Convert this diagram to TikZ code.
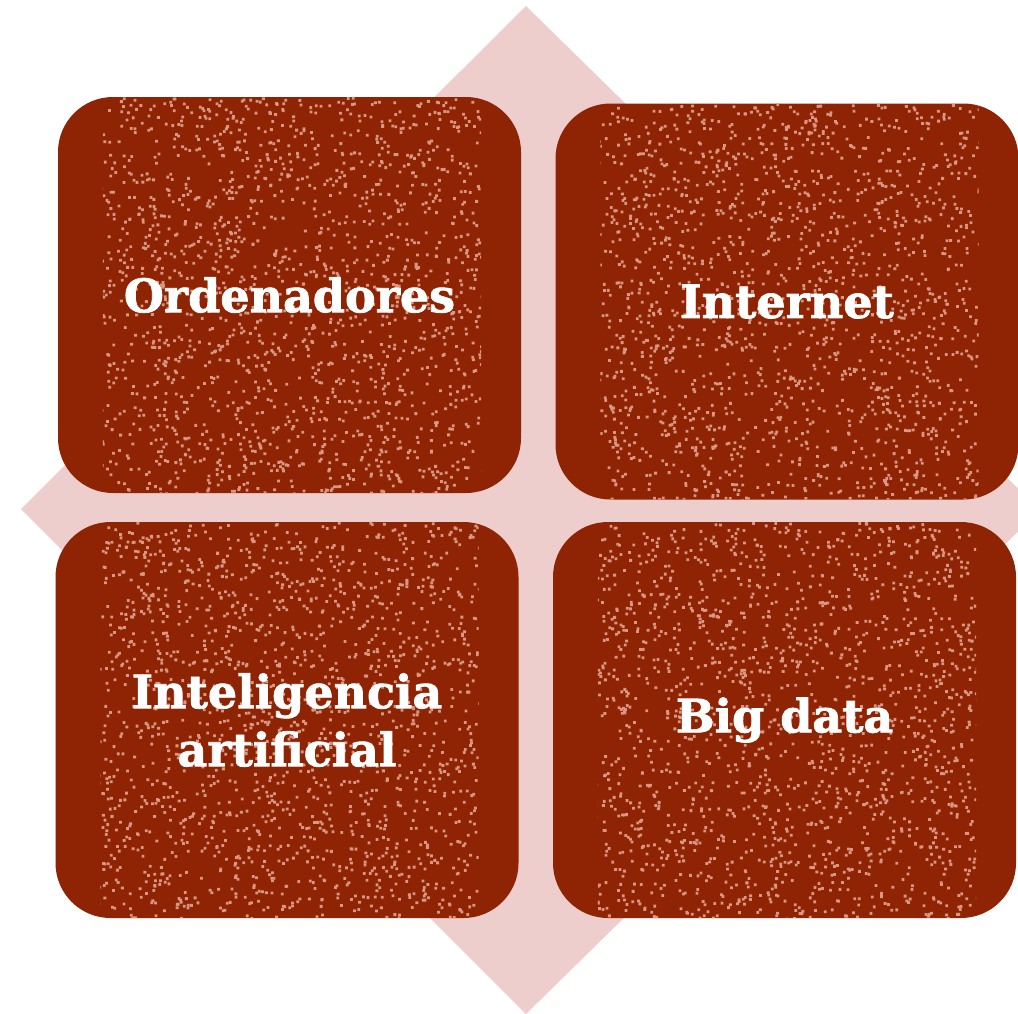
\documentclass[tikz,border=0pt]{standalone}
\usepackage{fontspec}
\newfontfamily\labelfont[BoldFeatures={FakeBold=1.6}]{DejaVu Serif}
\usetikzlibrary{calc}
\definecolor{diamondpink}{RGB}{238,206,204}
\definecolor{boxred}{RGB}{142,36,4}
\definecolor{speckcol}{RGB}{218,150,130}
\tikzset{
  tile/.style={fill=boxred, draw=none, rounded corners=55pt, minimum width=463pt, minimum height=396pt, inner sep=0pt},
  tilelabel/.style={text=white, align=center, font=\labelfont\bfseries\fontsize{46}{58}\selectfont},
  speck/.style={fill=speckcol}
}
\begin{document}
\begin{tikzpicture}[x=1pt,y=-1pt]
\useasboundingbox (0,0) rectangle (1018,1013);
\begin{scope}
\clip (0,0) rectangle (1018,1013);
\fill[diamondpink] (526,6) -- (1040,510) -- (526,1014) -- (21,509) -- cycle;
\end{scope}
\node[tile] (tl) at (289.5,295) {};
\node[tile] (tr) at (787,301.5) {};
\node[tile] (bl) at (287,720) {};
\node[tile] (br) at (784.5,720) {};
\pgfmathsetseed{7}
\foreach \n in {tl,tr,bl,br}{
  \begin{scope}
    \clip ($(\n.north west)+(45,0)$) rectangle ($(\n.south east)+(-40,0)$);
    \clip[rounded corners=55pt] (\n.north west) rectangle (\n.south east);
    \foreach \c in {1,...,4}{
      \path[speck] \foreach \k in {1,...,450}{
        ($(\n.north west)+(40+400*rnd,396*rnd)$) rectangle ++(2.8,2.8)
      };
    }
  \end{scope}
}
\node[tilelabel] (tlt) at (tl) {Ordenadores};
\node[tilelabel] (trt) at (tr) {Internet};
\node[tilelabel] (blt) at (bl) {Inteligencia\\artificial};
\node[tilelabel] (brt) at (br) {Big data};
\end{tikzpicture}
\end{document}
